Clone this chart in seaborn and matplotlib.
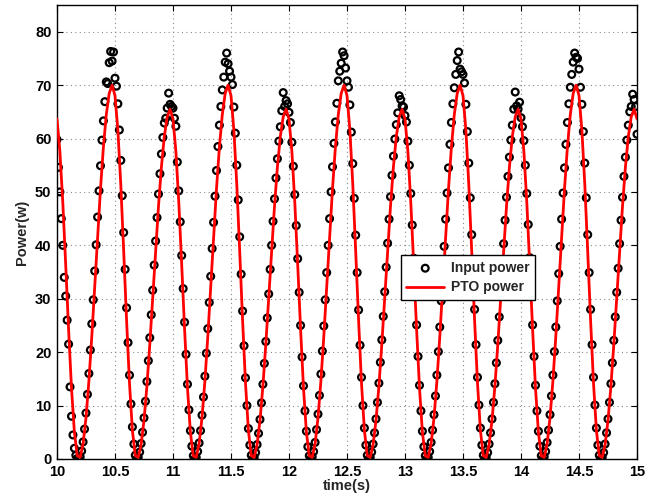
import numpy as np
import matplotlib
matplotlib.use("Agg")
import matplotlib.pyplot as plt
import seaborn as sns

# PTO power (red line), sampled every 0.025 s from 10 s to 15 s
pto_power = [
    63.67, 57.57, 48.05, 36.41, 24.27, 13.30, 5.02, 0.57,
    # 10.19 - 10.69
    0.32, 2.85, 7.72, 14.58, 22.93, 32.17, 41.59, 50.57, 58.38, 64.48,
    68.45, 69.99, 68.04, 61.53, 51.35, 38.91, 25.94, 14.21, 5.36, 0.61,
    # 10.69 - 11.19
    0.30, 2.67, 7.22, 13.64, 21.46, 30.10, 38.91, 47.32, 54.63, 60.34,
    64.05, 65.49, 63.67, 57.57, 48.05, 36.41, 24.27, 13.30, 5.02, 0.57,
    # 11.19 - 11.69
    0.32, 2.85, 7.72, 14.58, 22.93, 32.17, 41.59, 50.57, 58.38, 64.48,
    68.45, 69.99, 68.04, 61.53, 51.35, 38.91, 25.94, 14.21, 5.36, 0.61,
    # 11.69 - 12.19
    0.30, 2.67, 7.22, 13.64, 21.46, 30.10, 38.91, 47.32, 54.63, 60.34,
    64.05, 65.49, 63.67, 57.57, 48.05, 36.41, 24.27, 13.30, 5.02, 0.57,
    # 12.19 - 12.69
    0.32, 2.85, 7.72, 14.58, 22.93, 32.17, 41.59, 50.57, 58.38, 64.48,
    68.45, 69.99, 68.04, 61.53, 51.35, 38.91, 25.94, 14.21, 5.36, 0.61,
    # 12.69 - 13.19
    0.30, 2.67, 7.22, 13.64, 21.46, 30.10, 38.91, 47.32, 54.63, 60.34,
    64.05, 65.49, 63.67, 57.57, 48.05, 36.41, 24.27, 13.30, 5.02, 0.57,
    # 13.19 - 13.69
    0.32, 2.85, 7.72, 14.58, 22.93, 32.17, 41.59, 50.57, 58.38, 64.48,
    68.45, 69.99, 68.04, 61.53, 51.35, 38.91, 25.94, 14.21, 5.36, 0.61,
    # 13.69 - 14.19
    0.30, 2.67, 7.22, 13.64, 21.46, 30.10, 38.91, 47.32, 54.63, 60.34,
    64.05, 65.49, 63.67, 57.57, 48.05, 36.41, 24.27, 13.30, 5.02, 0.57,
    # 14.19 - 14.69
    0.32, 2.85, 7.72, 14.58, 22.93, 32.17, 41.59, 50.57, 58.38, 64.48,
    68.45, 69.99, 68.04, 61.53, 51.35, 38.91, 25.94, 14.21, 5.36, 0.61,
    # 14.69 - 15.00
    0.30, 2.67, 7.22, 13.64, 21.46, 30.10, 38.91, 47.32, 54.63, 60.34,
    64.05, 65.49, 63.67,
]

# Input power (circles), sampled every 0.0125 s from 10 s to 15 s
input_power = [
    59.8, 54.6, 50.0, 45.0, 40.0, 34.0, 30.5, 26.0, 21.5, 13.5,
    8.0, 4.5, 2.0, 0.7, 0.1,
    # cycle 1
    0.0, 0.4, 1.5, 3.2, 5.6, 8.6, 12.1, 16.0, 20.4, 25.3,
    29.8, 35.2, 40.1, 45.3, 50.2, 54.9, 59.7, 63.3, 66.9, 70.6,
    70.3, 74.2, 76.3, 74.5, 76.2, 71.3, 69.8, 66.5, 61.6, 55.9,
    49.3, 42.4, 35.5, 28.3, 21.8, 15.7, 10.3, 6.0, 2.8, 0.7,
    # cycle 2
    0.0, 0.3, 1.3, 2.9, 5.0, 7.7, 10.8, 14.5, 18.4, 22.7,
    27.0, 31.6, 36.3, 40.8, 45.2, 49.6, 53.4, 57.1, 60.2, 62.9,
    63.8, 65.7, 68.5, 66.4, 66.0, 65.7, 63.8, 62.3, 55.6, 50.2,
    44.4, 38.1, 31.9, 25.6, 19.6, 14.0, 9.2, 5.3, 2.4, 0.6,
    # cycle 3
    0.0, 0.3, 1.4, 3.0, 5.3, 8.2, 11.6, 15.5, 19.8, 24.4,
    29.3, 34.2, 39.4, 44.3, 49.2, 54.0, 58.5, 62.5, 66.0, 69.1,
    71.5, 74.3, 76.0, 74.0, 72.6, 71.5, 70.1, 65.9, 61.0, 55.0,
    48.5, 41.6, 34.6, 27.7, 21.2, 15.2, 10.0, 5.7, 2.6, 0.7,
    # cycle 4
    0.0, 0.3, 1.2, 2.7, 4.8, 7.4, 10.5, 14.0, 17.9, 22.0,
    26.4, 30.9, 35.5, 40.0, 44.5, 48.7, 52.6, 56.2, 59.5, 62.2,
    65.2, 68.6, 66.0, 67.1, 66.5, 64.9, 63.0, 59.3, 54.8, 49.5,
    43.7, 37.5, 31.2, 25.0, 19.1, 13.7, 9.0, 5.2, 2.3, 0.6,
    # cycle 5
    0.0, 0.4, 1.4, 3.1, 5.5, 8.4, 11.9, 15.9, 20.2, 24.9,
    29.8, 34.9, 40.0, 45.0, 50.0, 54.7, 59.1, 63.1, 66.6, 70.8,
    72.6, 74.1, 76.2, 75.5, 73.2, 70.8, 69.6, 66.3, 61.2, 55.3,
    48.8, 41.9, 34.9, 27.9, 21.3, 15.3, 10.0, 5.8, 2.6, 0.7,
    # cycle 6
    0.0, 0.3, 1.3, 2.8, 4.9, 7.5, 10.6, 14.2, 18.1, 22.3,
    26.7, 31.3, 35.9, 40.4, 44.9, 49.1, 53.1, 56.7, 59.9, 62.6,
    64.8, 68.0, 67.3, 66.1, 65.9, 64.3, 63.1, 59.5, 55.0, 49.7,
    43.8, 37.6, 31.3, 25.1, 19.2, 13.8, 9.0, 5.2, 2.3, 0.6,
    # cycle 7
    0.0, 0.3, 1.4, 3.1, 5.4, 8.3, 11.8, 15.7, 20.1, 24.7,
    29.6, 34.7, 39.8, 44.9, 49.8, 54.5, 58.9, 63.0, 66.5, 69.5,
    72.0, 74.6, 76.2, 73.0, 72.5, 72.0, 70.4, 66.4, 61.3, 55.4,
    48.9, 42.0, 34.9, 28.0, 21.4, 15.3, 10.1, 5.8, 2.6, 0.7,
    # cycle 8
    0.0, 0.3, 1.2, 2.8, 4.9, 7.5, 10.6, 14.1, 18.0, 22.2,
    26.6, 31.2, 35.7, 40.3, 44.7, 49.0, 52.9, 56.5, 59.7, 62.5,
    65.5, 68.7, 66.1, 65.5, 66.8, 63.9, 62.2, 59.6, 55.0, 49.7,
    43.9, 37.7, 31.4, 25.1, 19.2, 13.8, 9.0, 5.2, 2.4, 0.6,
    # cycle 9
    0.0, 0.4, 1.4, 3.1, 5.4, 8.3, 11.8, 15.7, 20.1, 24.7,
    29.6, 34.7, 39.8, 44.9, 49.8, 54.5, 58.9, 63.0, 66.5, 69.6,
    72.0, 74.3, 76.0, 75.2, 75.0, 73.0, 69.6, 66.4, 61.3, 55.4,
    48.9, 42.0, 34.9, 28.0, 21.4, 15.3, 10.1, 5.8, 2.6, 0.7,
    # cycle 10 (partial)
    0.0, 0.3, 1.2, 2.8, 4.9, 7.5, 10.6, 14.1, 18.0, 22.2,
    26.6, 31.2, 35.7, 40.3, 44.7, 49.0, 52.9, 56.5, 59.7, 62.5,
    65.0, 66.0, 68.3, 67.3, 66.0, 60.8,
]

x_ticks = [10, 10.5, 11, 11.5, 12, 12.5, 13, 13.5, 14, 14.5, 15]
x_tick_labels = ["10", "10.5", "11", "11.5", "12", "12.5", "13", "13.5", "14", "14.5", "15"]
y_ticks = [0, 10, 20, 30, 40, 50, 60, 70, 80]

t_pto = np.linspace(10, 15, len(pto_power))
t_input = np.linspace(10, 15, len(input_power))

sns.set_theme(style="ticks")
plt.rcParams["font.family"] = ["Liberation Sans", "DejaVu Sans"]
plt.rcParams["font.weight"] = "bold"

fig = plt.figure(figsize=(6.65, 5.04), dpi=100)
ax = fig.add_axes([0.0857, 0.0893, 0.8722, 0.9008])

sns.scatterplot(x=t_input, y=input_power, ax=ax, marker="o", s=24,
                facecolors="none", edgecolor="black", linewidth=1.6,
                label="Input power", zorder=2)
sns.lineplot(x=t_pto, y=pto_power, ax=ax, color="red", linewidth=2.0,
             estimator=None, sort=False, label="PTO power", zorder=3)

ax.set_xlim(10, 15)
ax.set_ylim(0, 85)
ax.set_xticks(x_ticks)
ax.set_xticklabels(x_tick_labels)
ax.set_yticks(y_ticks)
ax.tick_params(direction="in", length=4, width=0.8, top=True, right=True,
               labelsize=10.5, pad=4, colors="black")
for lab in ax.get_xticklabels() + ax.get_yticklabels():
    lab.set_fontweight("bold")

ax.grid(True, color="#8a8a8a", linestyle=(0, (1, 3)), linewidth=0.8)
for sp in ax.spines.values():
    sp.set_color("black")
    sp.set_linewidth(1.0)
    sp.set_visible(True)

ax.set_xlabel("time(s)", fontsize=10.5, fontweight="bold", labelpad=0)
ax.set_ylabel("Power(w)", fontsize=10.5, fontweight="bold", labelpad=4)

handles, labels = ax.get_legend_handles_labels()
order = [labels.index("Input power"), labels.index("PTO power")]
leg = ax.legend([handles[i] for i in order], [labels[i] for i in order],
                loc="lower left", bbox_to_anchor=(0.581, 0.335),
                frameon=True, fancybox=False, framealpha=1, edgecolor="black",
                handlelength=2.7, handletextpad=0.5, borderpad=0.4,
                labelspacing=0.4, prop={"weight": "bold", "size": 10})
leg.get_frame().set_linewidth(1.0)

fig.savefig("out.png", dpi=100, facecolor="white")
